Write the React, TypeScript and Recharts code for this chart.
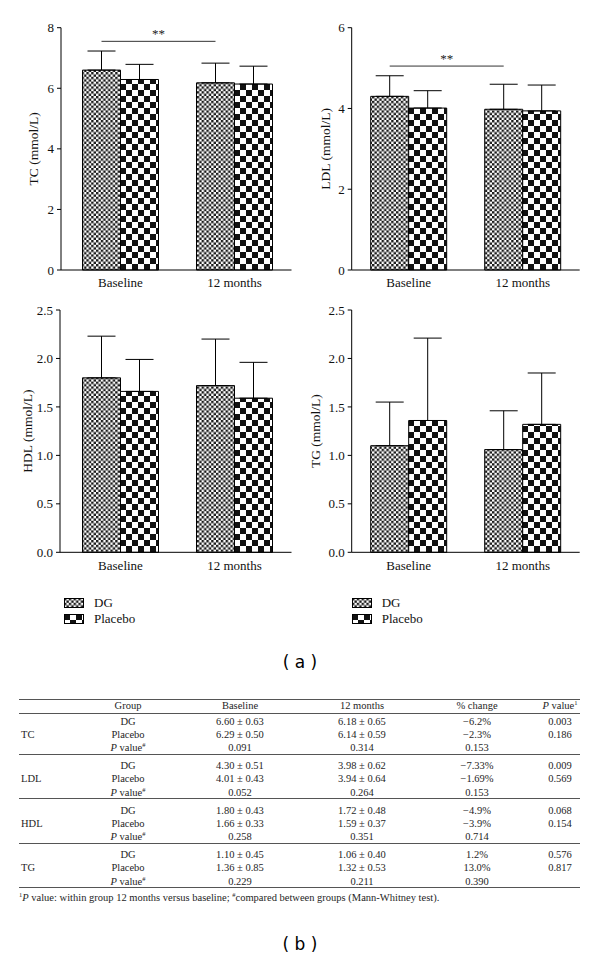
import React from 'react';
import { BarChart, Bar, XAxis, YAxis, ErrorBar, ReferenceLine, Legend } from 'recharts';

const timepoints = ['Baseline', '12 months'];
const panelNames = ['TC', 'LDL', 'HDL', 'TG'];
const dgMean = [[6.6, 6.18], [4.3, 3.98], [1.8, 1.72], [1.1, 1.06]];
const dgSd = [[0.63, 0.65], [0.51, 0.62], [0.43, 0.48], [0.45, 0.4]];
const placeboMean = [[6.29, 6.14], [4.01, 3.94], [1.66, 1.59], [1.36, 1.32]];
const placeboSd = [[0.5, 0.59], [0.43, 0.64], [0.33, 0.37], [0.85, 0.53]];
const yMax = [8, 6, 2.5, 2.5];
const yTicks = [
  [0, 2, 4, 6, 8],
  [0, 2, 4, 6],
  [0, 0.5, 1, 1.5, 2, 2.5],
  [0, 0.5, 1, 1.5, 2, 2.5],
];
const sigLevel = [7.55, 5.05, null, null];

// table (b)
const pctChange = [['\u22126.2%', '\u22122.3%'], ['\u22127.33%', '\u22121.69%'], ['\u22124.9%', '\u22123.9%'], ['1.2%', '13.0%']];
const pBetweenBaseline = ['0.091', '0.052', '0.258', '0.229'];
const pBetween12 = ['0.314', '0.264', '0.351', '0.211'];
const pBetweenChange = ['0.153', '0.153', '0.714', '0.390'];
const pWithin = [['0.003', '0.186'], ['0.009', '0.569'], ['0.068', '0.154'], ['0.576', '0.817']];

const serif = "'Liberation Serif', 'Times New Roman', serif";
const patFill: Record<string, string> = { DG: 'url(#dgPat)', Placebo: 'url(#plPat)' };

const layouts = [
  { left: 0, top: 0, height: 300, margin: { top: 27.7, right: 8.5, bottom: 0, left: 0 }, yWidth: 61, pad: 2.5, labelOffset: 33 },
  { left: 300, top: 0, height: 300, margin: { top: 27.7, right: 20.3, bottom: 0, left: 0 }, yWidth: 51.7, pad: 0, labelOffset: 25 },
  { left: 0, top: 300, height: 345, margin: { top: 10, right: 8.5, bottom: 62.7, left: 0 }, yWidth: 60, pad: 3.5, labelOffset: 27 },
  { left: 300, top: 300, height: 345, margin: { top: 10, right: 20.3, bottom: 62.7, left: 0 }, yWidth: 51.7, pad: 0, labelOffset: 15 },
];

const SigShape = (p: any) => {
  const off = -19;
  const x1 = p.x1 + off;
  const x2 = p.x2 + off;
  return (
    <g>
      <line x1={x1} y1={p.y1} x2={x2} y2={p.y2} stroke="#333" strokeWidth={1} />
      <text x={(x1 + x2) / 2} y={p.y1 - 3} textAnchor="middle" fontSize={13} fontFamily={serif} fill="#222">
        **
      </text>
    </g>
  );
};

const LegendContent = ({ payload }: any) => (
  <div style={{ fontFamily: serif, fontSize: 13, color: '#111' }}>
    {(payload || []).map((e: any) => (
      <div key={e.value} style={{ display: 'flex', alignItems: 'center', height: 16 }}>
        <svg width={20} height={10} style={{ display: 'block' }}>
          <rect x={0.5} y={0.5} width={19} height={9} fill={patFill[e.value]} stroke="#000" />
        </svg>
        <span style={{ marginLeft: 10 }}>{e.value}</span>
      </div>
    ))}
  </div>
);

function Panel({ idx }: { idx: number }) {
  const l = layouts[idx];
  const data = timepoints.map((t, i) => ({
    time: t,
    dg: dgMean[idx][i],
    dgErr: [0, dgSd[idx][i]],
    placebo: placeboMean[idx][i],
    placeboErr: [0, placeboSd[idx][i]],
  }));
  const sig = sigLevel[idx];
  const decimals = yMax[idx] < 5 ? 1 : 0;
  return (
    <div style={{ position: 'absolute', left: l.left, top: l.top }}>
      <BarChart width={300} height={l.height} data={data} margin={l.margin} barGap={0} barSize={38}>
        <XAxis
          dataKey="time"
          tickLine={false}
          tickSize={6}
          axisLine={{ stroke: '#000' }}
          tick={{ fill: '#111', fontSize: 13, fontFamily: serif }}
          padding={{ left: l.pad, right: 0 }}
        />
        <YAxis
          domain={[0, yMax[idx]]}
          ticks={yTicks[idx]}
          interval={0}
          width={l.yWidth}
          tickSize={4}
          tickMargin={3}
          axisLine={{ stroke: '#000' }}
          tickLine={{ stroke: '#000' }}
          tick={{ fill: '#111', fontSize: 13, fontFamily: serif }}
          tickFormatter={(v: number) => v.toFixed(decimals)}
          label={{
            value: `${panelNames[idx]} (mmol/L)`,
            angle: -90,
            position: 'insideLeft',
            offset: l.labelOffset,
            style: { textAnchor: 'middle' },
            fill: '#111',
            fontSize: 13.5,
            fontFamily: serif,
          }}
        />
        <Bar dataKey="dg" name="DG" fill="url(#dgPat)" stroke="#000" strokeWidth={1} isAnimationActive={false}>
          <ErrorBar dataKey="dgErr" width={14} stroke="#000" strokeWidth={1} direction="y" />
        </Bar>
        <Bar dataKey="placebo" name="Placebo" fill="url(#plPat)" stroke="#000" strokeWidth={1} isAnimationActive={false}>
          <ErrorBar dataKey="placeboErr" width={14} stroke="#000" strokeWidth={1} direction="y" />
        </Bar>
        {sig != null && (
          <ReferenceLine
            segment={[
              { x: timepoints[0], y: sig },
              { x: timepoints[1], y: sig },
            ]}
            shape={SigShape}
          />
        )}
        {idx >= 2 && (
          <Legend
            layout="vertical"
            align="center"
            verticalAlign="middle"
            width={120}
            height={34}
            wrapperStyle={{ left: idx === 2 ? 64 : 51.7, top: 295 }}
            content={LegendContent}
          />
        )}
      </BarChart>
    </div>
  );
}

const colX = { label: 21, group: 128, baseline: 240, m12: 362, change: 477, p: 560 };
const rowY = (b: number, r: number) => 721.7 + b * 44.4 + r * 13.3;

function Cell({ x, y, children, left }: { x: number; y: number; children: React.ReactNode; left?: boolean }) {
  return (
    <div
      style={{
        position: 'absolute',
        left: left ? x : x - 60,
        width: 120,
        top: y - 7,
        height: 14,
        lineHeight: '14px',
        textAlign: left ? 'left' : 'center',
        fontSize: 10.5,
        whiteSpace: 'nowrap',
      }}
    >
      {children}
    </div>
  );
}

const Sup = ({ children }: { children: React.ReactNode }) => (
  <span style={{ fontSize: 6.5, position: 'relative', top: -4, lineHeight: 0 }}>{children}</span>
);

const Rule = ({ y }: { y: number }) => (
  <div style={{ position: 'absolute', left: 19, width: 561, top: y, height: 1, background: '#555' }} />
);

const PHash = () => (
  <span>
    <i>P</i> value<Sup>#</Sup>
  </span>
);

function Table() {
  return (
    <div style={{ fontFamily: serif, color: '#1e1e1e' }}>
      <Rule y={699} />
      <Cell x={colX.group} y={706}>Group</Cell>
      <Cell x={colX.baseline} y={706}>Baseline</Cell>
      <Cell x={colX.m12} y={706}>12 months</Cell>
      <Cell x={colX.change} y={706}>% change</Cell>
      <Cell x={colX.p} y={706}>
        <i>P</i> value<Sup>1</Sup>
      </Cell>
      <Rule y={713} />
      {panelNames.map((name, b) => (
        <React.Fragment key={name}>
          <Cell x={colX.label} y={rowY(b, 1)} left>
            {name}
          </Cell>
          <Cell x={colX.group} y={rowY(b, 0)}>DG</Cell>
          <Cell x={colX.group} y={rowY(b, 1)}>Placebo</Cell>
          <Cell x={colX.group} y={rowY(b, 2)}>
            <PHash />
          </Cell>
          <Cell x={colX.baseline} y={rowY(b, 0)}>{`${dgMean[b][0].toFixed(2)} \u00b1 ${dgSd[b][0].toFixed(2)}`}</Cell>
          <Cell x={colX.baseline} y={rowY(b, 1)}>{`${placeboMean[b][0].toFixed(2)} \u00b1 ${placeboSd[b][0].toFixed(2)}`}</Cell>
          <Cell x={colX.baseline} y={rowY(b, 2)}>{pBetweenBaseline[b]}</Cell>
          <Cell x={colX.m12} y={rowY(b, 0)}>{`${dgMean[b][1].toFixed(2)} \u00b1 ${dgSd[b][1].toFixed(2)}`}</Cell>
          <Cell x={colX.m12} y={rowY(b, 1)}>{`${placeboMean[b][1].toFixed(2)} \u00b1 ${placeboSd[b][1].toFixed(2)}`}</Cell>
          <Cell x={colX.m12} y={rowY(b, 2)}>{pBetween12[b]}</Cell>
          <Cell x={colX.change} y={rowY(b, 0)}>{pctChange[b][0]}</Cell>
          <Cell x={colX.change} y={rowY(b, 1)}>{pctChange[b][1]}</Cell>
          <Cell x={colX.change} y={rowY(b, 2)}>{pBetweenChange[b]}</Cell>
          <Cell x={colX.p} y={rowY(b, 0)}>{pWithin[b][0]}</Cell>
          <Cell x={colX.p} y={rowY(b, 1)}>{pWithin[b][1]}</Cell>
          <Rule y={rowY(b, 2) + 5.5} />
        </React.Fragment>
      ))}
      <div style={{ position: 'absolute', left: 19, top: 892, fontSize: 10.5, lineHeight: '12px', whiteSpace: 'nowrap' }}>
        <Sup>1</Sup>
        <i>P</i> value: within group 12 months versus baseline; <Sup>#</Sup>compared between groups (Mann-Whitney test).
      </div>
    </div>
  );
}

export default function App() {
  return (
    <div style={{ position: 'absolute', left: 0, top: 0, width: 600, height: 966, background: '#fff', overflow: 'hidden' }}>
      <svg width={0} height={0} style={{ position: 'absolute' }}>
        <defs>
          <pattern id="dgPat" width={4.8} height={4.8} patternUnits="userSpaceOnUse">
            <rect width={4.8} height={4.8} fill="#fff" />
            <rect width={2.4} height={2.4} fill="#1a1a1a" />
            <rect x={2.4} y={2.4} width={2.4} height={2.4} fill="#1a1a1a" />
          </pattern>
          <pattern id="plPat" width={12} height={12} patternUnits="userSpaceOnUse">
            <rect width={12} height={12} fill="#fff" />
            <rect width={6} height={6} fill="#111" />
            <rect x={6} y={6} width={6} height={6} fill="#111" />
          </pattern>
        </defs>
      </svg>
      {[0, 1, 2, 3].map((i) => (
        <Panel key={i} idx={i} />
      ))}
      <div style={{ position: 'absolute', left: 0, width: 600, top: 652, textAlign: 'center', fontFamily: "'DejaVu Sans', sans-serif", fontSize: 17 }}>
        ( a )
      </div>
      <Table />
      <div style={{ position: 'absolute', left: 0, width: 600, top: 934, textAlign: 'center', fontFamily: "'DejaVu Sans', sans-serif", fontSize: 17 }}>
        ( b )
      </div>
    </div>
  );
}
